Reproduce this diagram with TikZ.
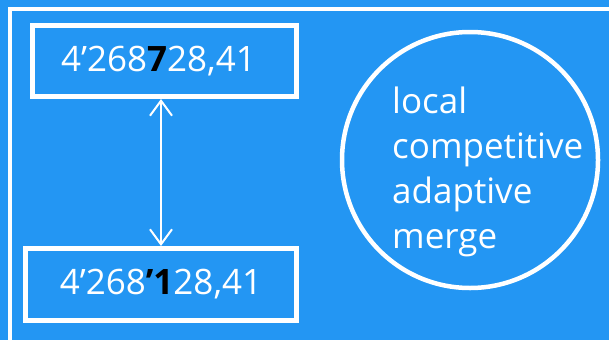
\documentclass[tikz,border=0pt]{standalone}
\usepackage{fontspec}
\setmainfont{Open Sans}
\usetikzlibrary{arrows.meta}
\definecolor{slideblue}{RGB}{35,150,243}
\tikzset{
  numbox/.style={draw=white,line width=5pt,rectangle,text=white,inner sep=0pt,
    font=\fontsize{35}{42}\selectfont},
  mergering/.style={draw=white,line width=4.5pt,circle,inner sep=0pt,minimum size=256pt},
  swap/.style={white,line width=2pt,{Straight Barb[length=15pt,width=22pt]}-{Straight Barb[length=15pt,width=22pt]}}
}
\begin{document}
\begin{tikzpicture}[x=1pt,y=-1pt]
\fill[slideblue] (0,0) rectangle (609,340);
\useasboundingbox (0,0) rectangle (609,340);
% outer frame, runs off the page on the right and bottom
\draw[white,line width=4pt] (640,9) -- (10,9) -- (10,360);
%
\node[numbox,minimum width=264pt,minimum height=71pt] (upper) at (164.5,61)
  {4’268{\bfseries\color{black}7}28,41\hspace*{12pt}};
\node[numbox,minimum width=271pt,minimum height=72pt] (lower) at (161,284.5)
  {4’268{\bfseries\color{black}’1}28,41};
\draw[swap] (lower.north) -- (lower.north |- upper.south);
%
\node[mergering] (merge) at (470,160) {};
\node[text=white,align=left,anchor=north west,inner sep=0pt,
  font=\fontsize{35}{45}\selectfont] (mergetext) at (392,87)
  {local\\competitive\\adaptive\\merge};
\end{tikzpicture}
\end{document}
